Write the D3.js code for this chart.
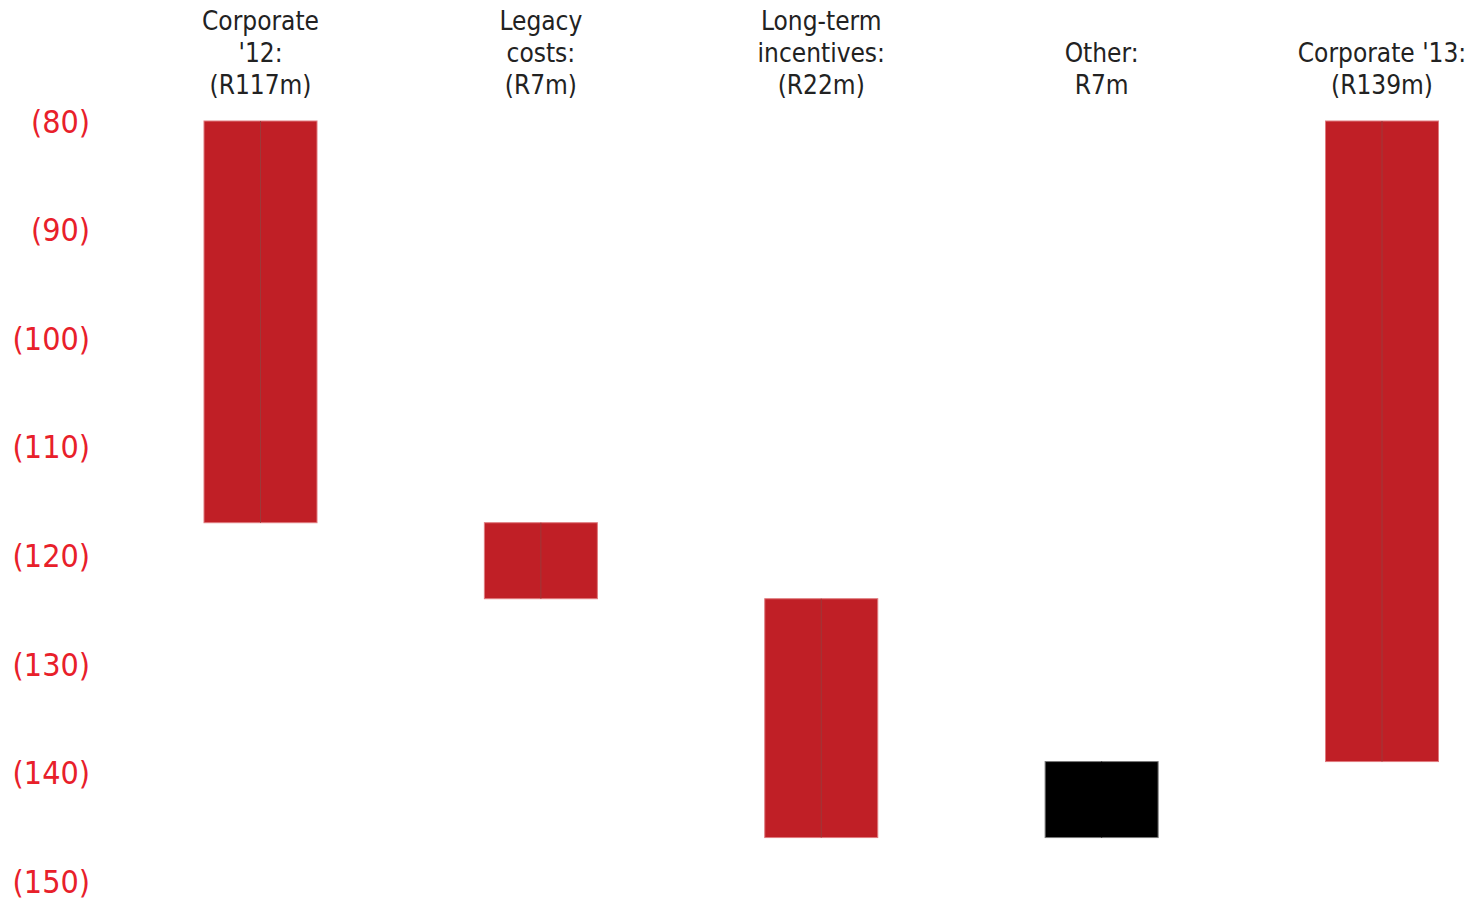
<!DOCTYPE html>
<html>
<head>
<meta charset="utf-8">
<script src="https://cdn.jsdelivr.net/npm/d3@7"></script>
<style>
  html, body { margin: 0; padding: 0; background: #fff; }
  svg text { font-family: "DejaVu Sans Condensed", "DejaVu Sans", sans-serif; font-stretch: condensed; }
</style>
</head>
<body>
<svg id="chart" width="1474" height="904"></svg>
<script>
// Corporate cost bridge, FY12 to FY13 (Rm, costs shown as negatives in brackets)
const categories = ["Corporate '12", "Legacy costs", "Long-term incentives", "Other", "Corporate '13"];
const labelLines = [
  ["Corporate", "'12:", "(R117m)"],
  ["Legacy", "costs:", "(R7m)"],
  ["Long-term", "incentives:", "(R22m)"],
  ["Other:", "R7m"],
  ["Corporate '13:", "(R139m)"]
];
// step change of each bar; totals marked by kind "total"
const changes = [117, 7, 22, -7, 139];
const kinds = ["total", "step", "step", "step", "total"];
const yTicks = [80, 90, 100, 110, 120, 130, 140, 150];

const svg = d3.select("#chart");

const y = d3.scaleLinear().domain([80, 150]).range([121, 881]);
const x = d3.scalePoint().domain(categories).range([260.5, 1382]);
const barW = 113;

// build waterfall segments
let running = 0;
const bars = categories.map((c, i) => {
  let start, end;
  if (kinds[i] === "total") { start = 80; end = changes[i]; running = changes[i]; }
  else { start = running; end = running + changes[i]; running = end; }
  const lo = Math.min(start, end), hi = Math.max(start, end);
  return { cat: c, lo, hi, increase: changes[i] < 0 && kinds[i] !== "total" };
});

const colorRed = "#c01f26";

const g = svg.append("g");
g.selectAll("rect.bar")
  .data(bars)
  .enter().append("rect")
  .attr("class", "bar")
  .attr("x", d => x(d.cat) - barW / 2)
  .attr("width", barW)
  .attr("y", d => y(d.lo))
  .attr("height", d => y(d.hi) - y(d.lo))
  .attr("fill", d => d.increase ? "#000" : colorRed)
  .attr("stroke", d => d.increase ? "#777" : "#e07a7e")
  .attr("stroke-width", 1);

// thin divider down the middle of each bar
g.selectAll("line.mid")
  .data(bars)
  .enter().append("line")
  .attr("class", "mid")
  .attr("x1", d => x(d.cat)).attr("x2", d => x(d.cat))
  .attr("y1", d => y(d.lo)).attr("y2", d => y(d.hi))
  .attr("stroke", d => d.increase ? "#000" : "#9c3a3a")
  .attr("stroke-width", 1);

// y axis tick labels
const axis = d3.axisLeft(y).tickValues(yTicks).tickSize(0).tickPadding(0)
  .tickFormat(d => "(" + d + ")");
const ag = svg.append("g").attr("transform", "translate(90,0)").call(axis);
ag.select(".domain").remove();
ag.selectAll("text")
  .attr("fill", "#e8202a")
  .style("font-size", "32px")
  .attr("dy", "0.35em");

// category labels above the bars, bottom-aligned
const lineH = 32;
const lastBaseline = 94;
categories.forEach((c, i) => {
  const lines = labelLines[i];
  const t = svg.append("text")
    .attr("text-anchor", "middle")
    .attr("fill", "#222")
    .style("font-size", "26px");
  lines.forEach((ln, j) => {
    t.append("tspan")
      .attr("x", x(c))
      .attr("y", lastBaseline - (lines.length - 1 - j) * lineH)
      .text(ln);
  });
});
</script>
</body>
</html>
